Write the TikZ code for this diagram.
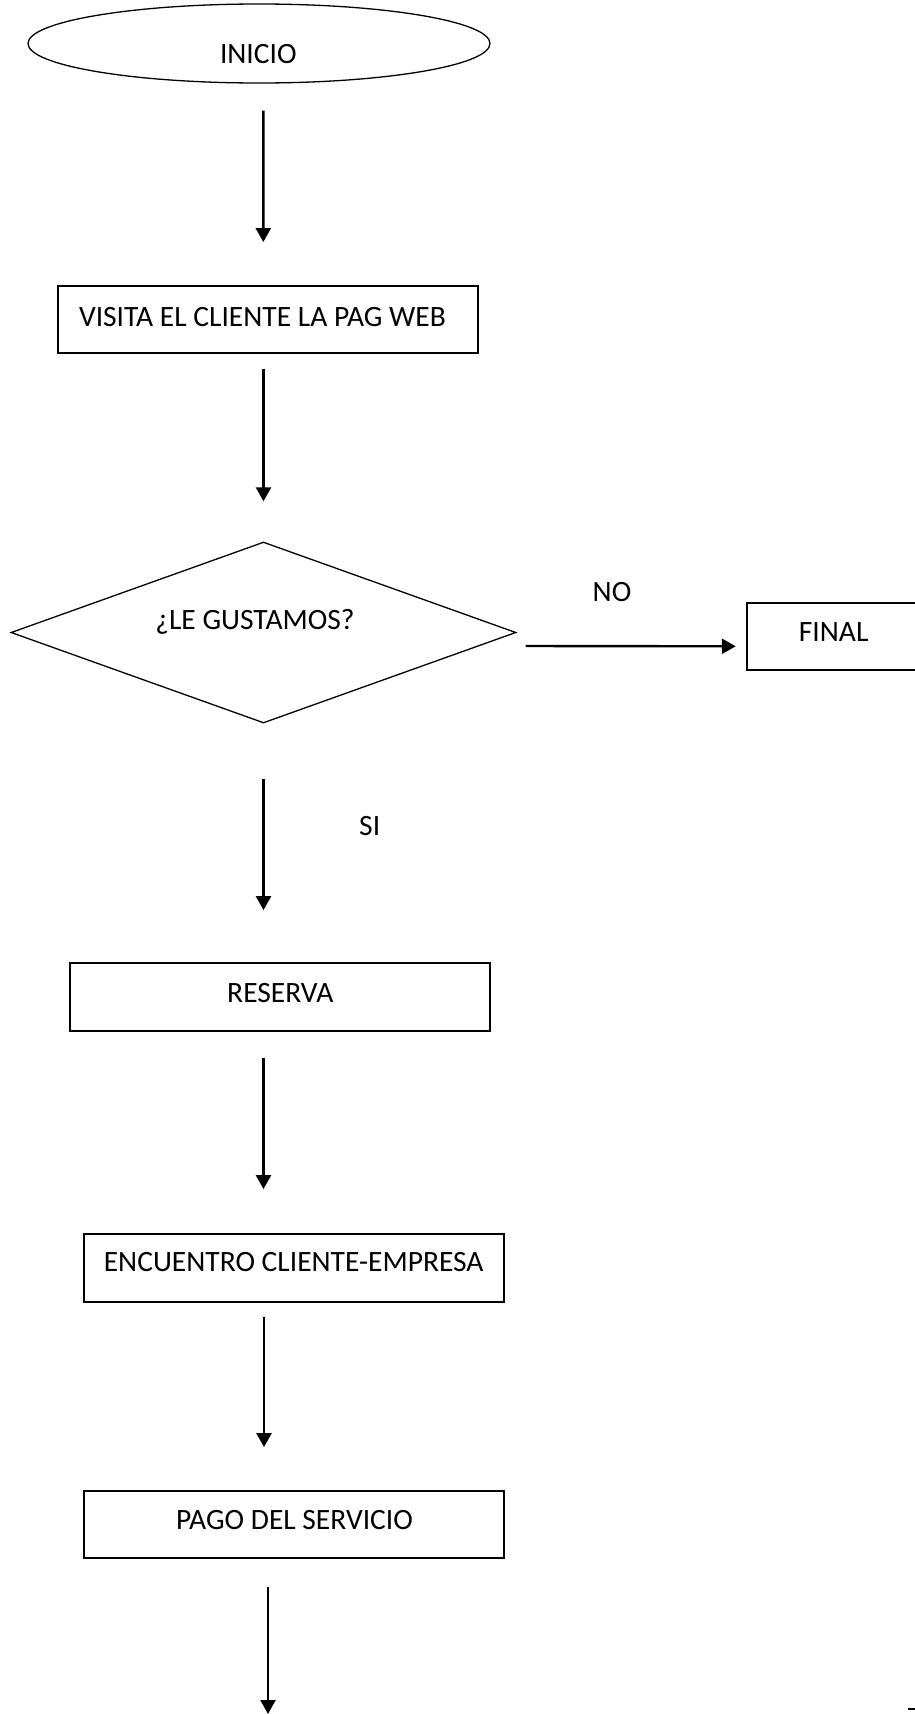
\documentclass[tikz,border=0pt]{standalone}
\usepackage{fontspec}
\setmainfont{Carlito}
\usetikzlibrary{shapes.geometric,arrows.meta,calc}
\begin{document}
\begin{tikzpicture}[x=1pt,y=-1pt,
  box/.style={draw,rectangle,line width=1.8pt,inner sep=0pt,minimum width=420pt,minimum height=68pt},
  arr/.style={line width=2.4pt,-{Triangle[width=15pt,length=14pt]}},
  txt/.style={inner sep=0pt,anchor=base,font=\fontsize{29.5}{35}\selectfont}]
\useasboundingbox (0,0) rectangle (915,1714);
\clip (0,0) rectangle (915,1714);
% shapes
\node[ellipse,draw,line width=1.3pt,inner sep=0pt,minimum width=462pt,minimum height=79pt] (ini) at (259,43.5) {};
\node[box,minimum width=420.3pt,minimum height=67.3pt] (visita) at (267.9,319.3) {};
\node[diamond,draw,line width=1.3pt,inner sep=0pt,minimum width=505pt,minimum height=181pt] (dec) at (263.5,632.5) {};
\node[box,minimum width=200pt,minimum height=67.3pt] (final) at (846.7,636.3) {};
\node[box] (reserva) at (280,997) {};
\node[box] (encuentro) at (294,1268) {};
\node[box,minimum height=67pt] (pago) at (294,1524.5) {};
% texts
\node[txt] (t-ini) at (258.3,63.3) {INICIO};
\node[txt] (t-visita) at (262.5,326.7) {VISITA EL CLIENTE LA PAG WEB};
\node[txt] (t-dec) at (255,629.5) {¿LE GUSTAMOS?};
\node[txt] (t-no) at (612,601.7) {NO};
\node[txt] (t-final) at (833.7,641.7) {FINAL};
\node[txt] (t-si) at (369.7,835) {SI};
\node[txt] (t-reserva) at (280.3,1002) {RESERVA};
\node[txt] (t-encuentro) at (293.7,1271.7) {ENCUENTRO CLIENTE-EMPRESA};
\node[txt] (t-pago) at (294.5,1529) {PAGO DEL SERVICIO};
% connectors
\draw[arr] ($(ini.south)+(4.3,27)$) -- ($(visita.north)+(-4.6,-42.7)$);
\draw[arr] ($(visita.south)+(-4.4,15)$) -- ($(dec.north)+(0,-40)$);
\draw[arr] ($(dec.east)+(9,13.5)$) -- ($(final.west)+(-10,10)$);
\draw[arr] ($(dec.south)+(0,55)$) -- ($(reserva.north)+(-16.5,-52)$);
\draw[arr] ($(reserva.south)+(-16.5,26)$) -- ($(encuentro.north)+(-30.5,-44)$);
\draw[arr] ($(encuentro.south)+(-30,14)$) -- ($(pago.north)+(-30,-43)$);
\coordinate (endpt) at (268,1714);
\draw[arr] ($(pago.south)+(-26,28)$) -- (endpt);
\coordinate (m1) at (908,1709);
\coordinate (m2) at (915,1709);
\draw[line width=2pt] (m1) -- (m2);
\end{tikzpicture}
\end{document}
